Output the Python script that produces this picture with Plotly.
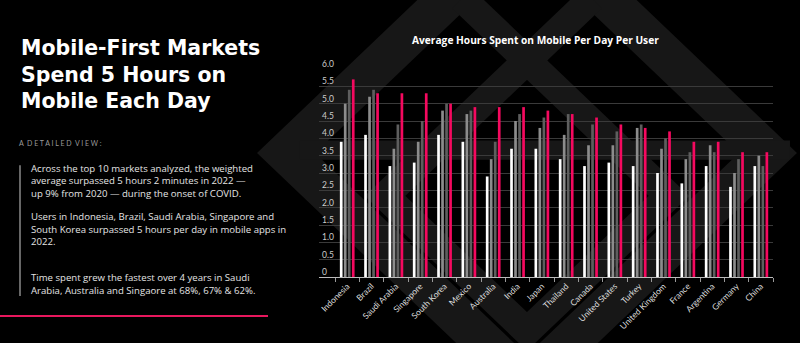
import plotly.graph_objects as go

countries = ["Indonesia", "Brazil", "Saudi Arabia", "Singapore", "South Korea", "Mexico",
             "Australia", "India", "Japan", "Thailand", "Canada", "United States", "Turkey",
             "United Kingdom", "France", "Argentina", "Germany", "China"]
years = ["2019", "2020", "2021", "2022"]
v2019 = [3.9, 4.1, 3.2, 3.3, 4.1, 3.9, 2.9, 3.7, 3.7, 3.4, 3.2, 3.3, 3.2, 3.0, 2.7, 3.2, 2.6, 3.2]
v2020 = [5.0, 5.2, 3.7, 3.9, 4.8, 4.7, 3.4, 4.5, 4.3, 4.1, 3.8, 3.8, 4.3, 3.7, 3.4, 3.8, 3.0, 3.5]
v2021 = [5.4, 5.4, 4.4, 4.5, 5.0, 4.8, 3.9, 4.7, 4.6, 4.7, 4.4, 4.2, 4.4, 4.0, 3.6, 3.6, 3.4, 3.2]
v2022 = [5.7, 5.3, 5.3, 5.3, 5.0, 4.9, 4.9, 4.9, 4.8, 4.7, 4.6, 4.4, 4.3, 4.2, 3.9, 3.9, 3.6, 3.6]
series = [v2019, v2020, v2021, v2022]
colors = ["#ffffff", "#8c8c8c", "#5e5e5e", "#f5095f"]
yticks = [0, 0.5, 1.0, 1.5, 2.0, 2.5, 3.0, 3.5, 4.0, 4.5, 5.0, 5.5, 6.0]
ytext = ["0", "0.5", "1.0", "1.5", "2.0", "2.5", "3.0", "3.5", "4.0", "4.5", "5.0", "5.5", "6.0"]

W, H = 800, 343
L, R, T, B = 319, 773, 69, 287


def px(x):
    return (x - L) / (R - L)


def py(y):
    return (B - y) / (B - T)


def path(points, close=False):
    s = "M " + " L ".join(f"{px(x):.4f},{py(y):.4f}" for x, y in points)
    return s + (" Z" if close else "")


FONT = "Open Sans"
TFONT = "Lato"
fig = go.Figure()
for name, vals, col in zip(years, series, colors):
    fig.add_trace(go.Bar(x=countries, y=vals, name=name, marker_color=col,
                         marker_line_width=0, showlegend=False))

shapes = []
band = "#171717"
# outer diamond outline
cx, cy, r = 527, 157, 241
shapes.append(dict(type="path", xref="paper", yref="paper", layer="below",
                   path=path([(cx - r, cy), (cx, cy - r), (cx + r, cy), (cx, cy + r)], True),
                   line=dict(color=band, width=40)))
# inner diamond with crossing arms at the top
shapes.append(dict(type="path", xref="paper", yref="paper", layer="below",
                   path=path([(592, -5), (385, 202), (527, 344), (669, 202), (462, -5)]),
                   line=dict(color=band, width=28)))
# horizontal band
shapes.append(dict(type="path", xref="paper", yref="paper", layer="below",
                   path=path([(300, 144), (790, 144), (790, 164), (300, 164)], True),
                   fillcolor=band, line=dict(width=0)))
# left decor lines
shapes.append(dict(type="line", xref="paper", yref="paper", x0=px(20), x1=px(20),
                   y0=py(170), y1=py(307), line=dict(color="#8a8a8a", width=1.5)))
shapes.append(dict(type="line", xref="paper", yref="paper", x0=px(0), x1=px(268),
                   y0=py(328), y1=py(328), line=dict(color="#e8175d", width=2)))

ann = []
ann.append(dict(text="<b>Mobile-First Markets<br>Spend 5 Hours on<br>Mobile Each Day</b>",
                x=px(19), y=py(74.5), xref="paper", yref="paper", align="left",
                xanchor="left", yanchor="middle", showarrow=False,
                font=dict(family="DejaVu Sans", size=20.5, color="#ffffff")))
ann.append(dict(text="A  D E T A I L E D  V I E W :", x=px(17), y=py(147), xref="paper", yref="paper",
                xanchor="left", yanchor="middle", showarrow=False,
                font=dict(family=TFONT, size=7, color="#9a9a9a")))
para = [("Across the top 10 markets analyzed, the weighted", 173),
        ("average surpassed 5 hours 2 minutes in 2022 —", 186),
        ("up 9% from 2020 — during the onset of COVID.", 199),
        ("Users in Indonesia, Brazil, Saudi Arabia, Singapore and", 224),
        ("South Korea surpassed 5 hours per day in mobile apps in", 237),
        ("2022.", 250),
        ("Time spent grew the fastest over 4 years in Saudi", 288),
        ("Arabia, Australia and Singaore at 68%, 67% & 62%.", 301)]
for txt, yc in para:
    ann.append(dict(text=txt, x=px(29), y=py(yc), xref="paper", yref="paper",
                    xanchor="left", yanchor="middle", showarrow=False,
                    font=dict(family=FONT, size=9.6, color="#e4e4e4")))
ann.append(dict(text="<b>Average Hours Spent on Mobile Per Day Per User</b>", x=px(535), y=py(39),
                xref="paper", yref="paper", xanchor="center", yanchor="middle", showarrow=False,
                font=dict(family=FONT, size=10.2, color="#ffffff")))

fig.update_layout(
    width=W, height=H,
    margin=dict(l=L, r=W - R, t=T, b=H - B, pad=0),
    paper_bgcolor="#000000", plot_bgcolor="rgba(0,0,0,0)",
    barmode="group", bargap=0.34, bargroupgap=0.33,
    shapes=shapes, annotations=ann,
    font=dict(family=TFONT, color="#dddddd"),
    xaxis=dict(type="category", range=[-1.16, 17.5], tickson="boundaries", ticks="outside",
               ticklen=4, tickcolor="#999999", tickangle=-45, showline=True, linecolor="#bbbbbb",
               linewidth=1, showgrid=False, tickfont=dict(family=TFONT, size=8.5, color="#dddddd")),
    yaxis=dict(range=[0, 6.0], tickvals=yticks, ticktext=ytext, ticklabelposition="inside",
               ticklabeloverflow="allow", ticklabelshift=-5, ticklabelstandoff=0,
               showgrid=True, gridcolor="#3a3a3a",
               gridwidth=1, zeroline=False, showline=False, ticks="",
               tickfont=dict(family=TFONT, size=8.5, color="#cccccc")),
)
fig.write_html("out.html")
